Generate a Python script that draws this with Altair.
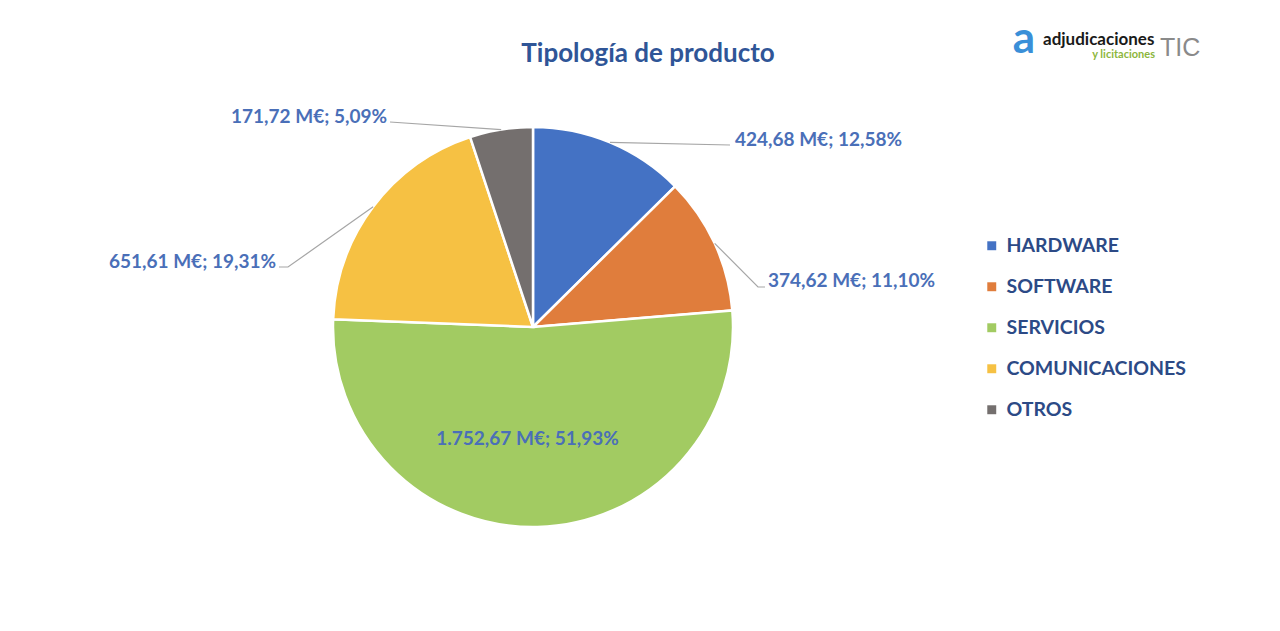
import math
import altair as alt
import pandas as pd

# ---------------- data ----------------
categories = ["HARDWARE", "SOFTWARE", "SERVICIOS", "COMUNICACIONES", "OTROS"]
values_meur = [424.68, 374.62, 1752.67, 651.61, 171.72]
percents = [12.58, 11.10, 51.93, 19.31, 5.09]

# ---------------- style / layout ----------------
colors = ["#4472C4", "#E07D3C", "#A2CB62", "#F6C143", "#746F6E"]
FONT = "Lato"
LABEL_COLOR = "#4A6FB8"
LEGEND_COLOR = "#2C4A86"
TITLE_COLOR = "#2F5597"
W, H = 1066, 600
PAD_TOP = 27
PAD_RIGHT = 1280 - W
R = 200
CX, CY = W / 2, H / 2

# label layout (absolute page pixels): elbow / end of leader line and text anchor
leader_elbow = {"HARDWARE": (730, 145), "SOFTWARE": (758, 287),
                "COMUNICACIONES": (288, 267), "OTROS": (390, 122)}
leader_end = {"HARDWARE": (730, 145), "SOFTWARE": (765, 287),
              "COMUNICACIONES": (279, 267), "OTROS": (390, 122)}
label_anchor = {"HARDWARE": (735, 140, "left"), "SOFTWARE": (768, 281, "left"),
                "COMUNICACIONES": (276, 262, "right"), "OTROS": (387, 117, "right")}
inside_label_radius = 112


def fmt_es(v):
    s = f"{v:,.2f}"
    return s.replace(",", "X").replace(".", ",").replace("X", ".")


labels = [f"{fmt_es(v)} M€; {fmt_es(p)}%" for v, p in zip(values_meur, percents)]

pie_df = pd.DataFrame({"cat": categories, "value": values_meur, "idx": range(len(categories)), "label": labels})

# mid angles from the data
total = sum(values_meur)
mids = {}
acc = 0.0
for c, v in zip(categories, values_meur):
    mids[c] = (acc + v / 2) / total * 2 * math.pi
    acc += v

line_rows = []
text_rows = []
for c, lab in zip(categories, labels):
    a = mids[c]
    if c in leader_elbow:
        sx, sy = CX + R * math.sin(a), CY - R * math.cos(a)
        ex, ey = leader_elbow[c]
        fx, fy = leader_end[c]
        pts = [(sx, sy), (ex, ey - PAD_TOP), (fx, fy - PAD_TOP)]
        for i, (px, py) in enumerate(pts):
            line_rows.append({"cat": c, "pt": i, "x": px, "y": py})
        lx, ly, al = label_anchor[c]
        text_rows.append({"cat": c, "label": lab, "x": lx, "y": ly - PAD_TOP, "align": al})
    else:
        text_rows.append({"cat": c, "label": lab,
                          "x": CX + inside_label_radius * math.sin(a) - 8,
                          "y": CY - inside_label_radius * math.cos(a),
                          "align": "center"})

line_df = pd.DataFrame(line_rows)
text_df = pd.DataFrame(text_rows)

pie = alt.Chart(pie_df).mark_arc(outerRadius=R, stroke="white", strokeWidth=2.5).encode(
    theta=alt.Theta("value:Q", stack=True),
    order=alt.Order("idx:Q"),
    color=alt.Color(
        "cat:N",
        scale=alt.Scale(domain=categories, range=colors),
        legend=alt.Legend(
            title=None, orient="none", legendX=982, legendY=209,
            symbolType="square", symbolSize=80, symbolStrokeWidth=0,
            labelFont=FONT, labelFontSize=19.5, labelFontWeight="bold", labelLimit=400,
            labelColor=LEGEND_COLOR, rowPadding=20, labelOffset=5,
        ),
    ),
)

leaders = alt.Chart(line_df).mark_line(color="#A6A6A6", strokeWidth=1.2).encode(
    x=alt.X("x:Q", scale=None), y=alt.Y("y:Q", scale=None),
    detail="cat:N", order="pt:Q",
)


def text_layer(al):
    return alt.Chart(text_df).transform_filter(alt.datum.align == al).mark_text(
        align=al, baseline="middle", font=FONT, fontSize=19, fontWeight="bold", color=LABEL_COLOR,
    ).encode(x=alt.X("x:Q", scale=None), y=alt.Y("y:Q", scale=None), text="label:N")


# logo (text)
logo_a = alt.Chart(pd.DataFrame({"t": ["a"]})).mark_text(
    font=FONT, fontSize=44, fontWeight="bold", color="#3A8FD8", align="center", baseline="middle"
).encode(x=alt.value(1024), y=alt.value(40 - PAD_TOP), text="t:N")
logo_1 = alt.Chart(pd.DataFrame({"t": ["adjudicaciones"]})).mark_text(
    font=FONT, fontSize=17, fontWeight="bold", color="#1A1A1A", align="left", baseline="alphabetic"
).encode(x=alt.value(1043), y=alt.value(45 - PAD_TOP), text="t:N")
logo_2 = alt.Chart(pd.DataFrame({"t": ["y licitaciones"]})).mark_text(
    font=FONT, fontSize=11, fontWeight="bold", color="#8CB63C", align="right", baseline="alphabetic",
).encode(x=alt.value(1155), y=alt.value(58 - PAD_TOP), text="t:N")
logo_3 = alt.Chart(pd.DataFrame({"t": ["TIC"]})).mark_text(
    font="Liberation Sans", fontSize=25, fontWeight="normal", color="#8A8A8A", align="left", baseline="alphabetic"
).encode(x=alt.value(1160), y=alt.value(56 - PAD_TOP), text="t:N")

chart = alt.layer(
    pie, leaders, text_layer("left"), text_layer("right"), text_layer("center"),
    logo_a, logo_1, logo_2, logo_3,
).properties(
    width=W, height=H,
    background="white",
    padding={"left": 0, "top": PAD_TOP, "right": PAD_RIGHT, "bottom": 0},
    autosize=alt.AutoSizeParams(type="none"),
    title=alt.TitleParams(
        "Tipología de producto", font=FONT, fontSize=26, fontWeight="bold", color=TITLE_COLOR,
        anchor="middle", dx=115, dy=53,
    ),
).configure_view(strokeWidth=0, stroke="transparent")

chart.save("out.html", embed_options={"renderer": "svg", "actions": False})
